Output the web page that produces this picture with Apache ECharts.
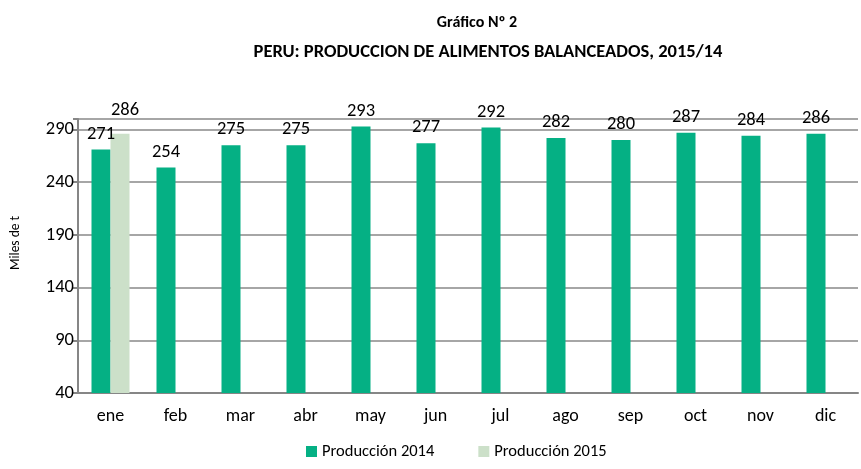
<!DOCTYPE html>
<html>
<head>
<meta charset="utf-8">
<script src="https://cdn.jsdelivr.net/npm/echarts@6/dist/echarts.min.js"></script>
<style>
  html, body { margin: 0; padding: 0; background: #fff; }
  #chart { width: 861px; height: 469px; }
</style>
</head>
<body>
<div id="chart"></div>
<script>
var meses = ['ene', 'feb', 'mar', 'abr', 'may', 'jun', 'jul', 'ago', 'sep', 'oct', 'nov', 'dic']
var prod2014 = [271, 254, 275, 275, 293, 277, 292, 282, 280, 287, 284, 286]
var prod2015 = [286, '-', '-', '-', '-', '-', '-', '-', '-', '-', '-', '-']

var chart = echarts.init(document.getElementById('chart'))
var fuente = 'Carlito, Lato, sans-serif'

chart.setOption({
  animation: false,
  textStyle: { fontFamily: fuente },
  title: [
    {
      text: 'Gráfico Nº 2',
      left: 472,
      top: 10,
      textAlign: 'center',
      textStyle: { fontSize: 16, fontWeight: 'bold', color: '#000', fontFamily: fuente }
    },
    {
      text: 'PERU: PRODUCCION DE ALIMENTOS BALANCEADOS, 2015/14',
      left: 483,
      top: 38,
      textAlign: 'center',
      textStyle: { fontSize: 18.5, fontWeight: 'bold', color: '#000', fontFamily: fuente }
    }
  ],
  // titulo del eje Y, girado
  graphic: [
    {
      type: 'text',
      x: 16,
      y: 243,
      rotation: Math.PI / 2,
      style: {
        text: 'Miles de t',
        fontSize: 13.5,
        fontFamily: fuente,
        fill: '#000',
        align: 'center',
        verticalAlign: 'middle'
      }
    }
  ],
  legend: {
    bottom: 4,
    left: 301,
    itemWidth: 11,
    itemHeight: 11,
    itemGap: 44,
    icon: 'rect',
    textStyle: { fontSize: 16.5, color: '#000', fontFamily: fuente },
    data: ['Producción 2014', 'Producción 2015']
  },
  grid: {
    left: 78,
    right: 3,
    top: 119,
    bottom: 76
  },
  xAxis: {
    type: 'category',
    data: meses,
    axisLine: { lineStyle: { color: '#868686', width: 2 } },
    axisTick: { lineStyle: { color: '#868686', width: 2 }, length: 5 },
    axisLabel: { fontSize: 18, color: '#000', margin: 14, fontFamily: fuente }
  },
  yAxis: {
    type: 'value',
    min: 40,
    max: 300,
    interval: 50,
    axisLine: { show: true, lineStyle: { color: '#868686', width: 2 } },
    axisTick: { show: true, length: 5, lineStyle: { color: '#868686', width: 2 } },
    axisLabel: {
      fontSize: 18.5,
      color: '#000',
      margin: 4,
      fontFamily: fuente,
      formatter: function (v) {
        return v === 300 ? '' : v
      }
    },
    splitLine: { lineStyle: { color: '#a6a6a6', width: 2 } }
  },
  series: [
    {
      name: 'Producción 2014',
      type: 'bar',
      barWidth: 19,
      barGap: '0%',
      itemStyle: { color: '#05b084' },
      label: { show: true, position: 'top', fontSize: 18.5, color: '#000', distance: 6, fontFamily: fuente },
      data: prod2014
    },
    {
      name: 'Producción 2015',
      type: 'bar',
      barWidth: 19,
      barGap: '0%',
      itemStyle: { color: '#cce0c9' },
      label: { show: true, position: 'top', fontSize: 18.5, color: '#000', distance: 14, offset: [5, 0], fontFamily: fuente },
      data: prod2015
    }
  ]
})
</script>
</body>
</html>
